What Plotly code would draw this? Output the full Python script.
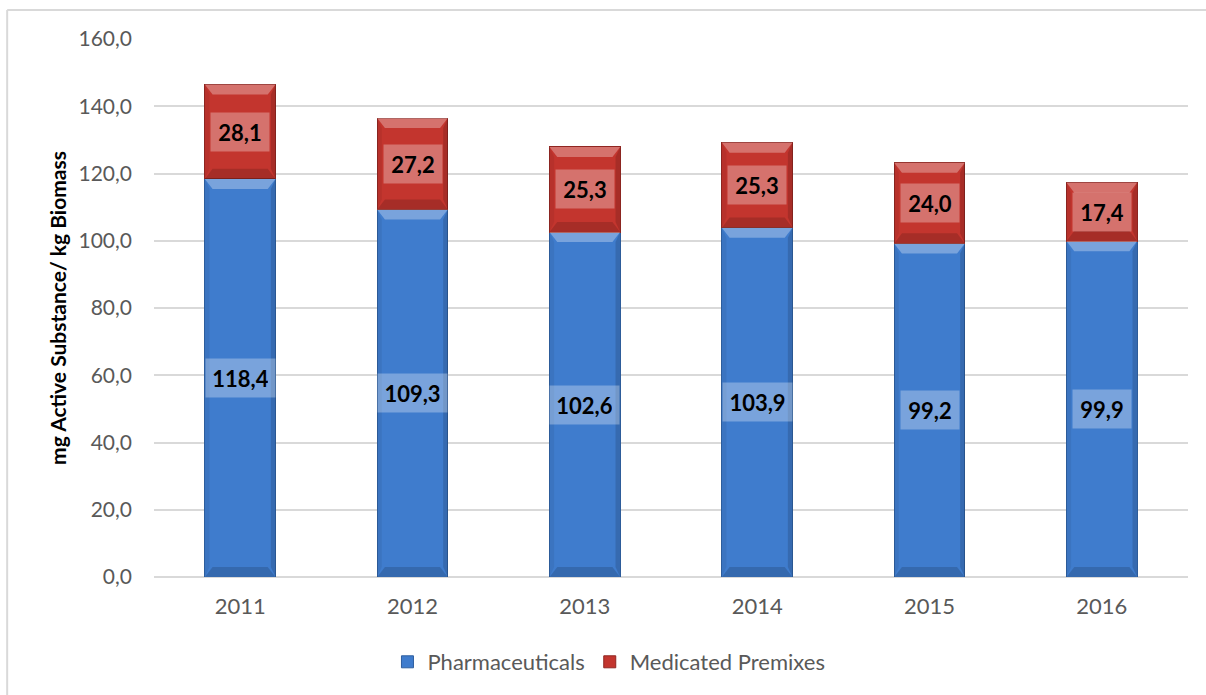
import plotly.graph_objects as go

# Antimicrobial use per kg biomass, split by product type
years = ["2011", "2012", "2013", "2014", "2015", "2016"]
pharmaceuticals = [118.4, 109.3, 102.6, 103.9, 99.2, 99.9]
medicated_premixes = [28.1, 27.2, 25.3, 25.3, 24.0, 17.4]

y_ticks = [0, 20, 40, 60, 80, 100, 120, 140, 160]

FONT = "Lato"
BLUE = "#3F7CCD"
BLUE_EDGE = "#2E5E9E"
RED = "#C3352E"
RED_EDGE = "#8F2621"
BAR_WIDTH = 0.41

fig = go.Figure()
fig.add_trace(go.Bar(
    name="Pharmaceuticals", x=years, y=pharmaceuticals,
    marker=dict(color=BLUE, line=dict(color=BLUE_EDGE, width=1)),
    width=BAR_WIDTH, hoverinfo="skip",
))
fig.add_trace(go.Bar(
    name="Medicated Premixes", x=years, y=medicated_premixes,
    marker=dict(color=RED, line=dict(color=RED_EDGE, width=1)),
    width=BAR_WIDTH, hoverinfo="skip",
))


def fmt(v):
    return f"{v:.1f}".replace(".", ",")


# bevel overlay on each stacked segment (category index on x, data units on y)
shapes = []
hw = BAR_WIDTH / 2
bx = 0.045   # bevel depth along x (category units)
by = 3.0     # bevel depth along y (data units)


def bevel(i, y0, y1):
    x0, x1 = i - hw, i + hw
    out = []
    # top facet, lit
    out.append(dict(type="path", xref="x", yref="y", layer="above", line=dict(width=0),
                    fillcolor="rgba(255,255,255,0.3)",
                    path=f"M {x0} {y1} L {x1} {y1} L {x1 - bx} {y1 - by} L {x0 + bx} {y1 - by} Z"))
    # bottom facet, shaded
    out.append(dict(type="path", xref="x", yref="y", layer="above", line=dict(width=0),
                    fillcolor="rgba(0,0,0,0.15)",
                    path=f"M {x0} {y0} L {x1} {y0} L {x1 - bx} {y0 + by} L {x0 + bx} {y0 + by} Z"))
    # left facet
    out.append(dict(type="path", xref="x", yref="y", layer="above", line=dict(width=0),
                    fillcolor="rgba(0,0,0,0.06)",
                    path=f"M {x0} {y0} L {x0 + bx*0.6} {y0 + by} L {x0 + bx*0.6} {y1 - by} L {x0} {y1} Z"))
    # right facet
    out.append(dict(type="path", xref="x", yref="y", layer="above", line=dict(width=0),
                    fillcolor="rgba(0,0,0,0.14)",
                    path=f"M {x1} {y0} L {x1 - bx*0.6} {y0 + by} L {x1 - bx*0.6} {y1 - by} L {x1} {y1} Z"))
    return out


annotations = []
for i, (p, m) in enumerate(zip(pharmaceuticals, medicated_premixes)):
    shapes += bevel(i, 0, p)
    shapes += bevel(i, p, p + m)
    for val, centre in ((p, p / 2), (m, p + m / 2)):
        txt = fmt(val)
        annotations.append(dict(
            x=i, y=centre, xref="x", yref="y", text=f"<b>{txt}</b>",
            showarrow=False, font=dict(family=FONT, size=22, color="#000000"),
            bgcolor="rgba(255,255,255,0.3)", borderpad=7,
            width=11 * len(txt), height=24,
        ))

# chart frame (left and top edges)
shapes.append(dict(type="line", xref="paper", yref="paper", x0=-0.142, x1=-0.142,
                   y0=-0.25, y1=1.054, line=dict(color="#D9D9D9", width=2)))
shapes.append(dict(type="line", xref="paper", yref="paper", x0=-0.142, x1=1.05,
                   y0=1.054, y1=1.054, line=dict(color="#D9D9D9", width=2)))

fig.update_layout(
    width=1206, height=695,
    margin=dict(l=154, r=18, t=39, b=118),
    barmode="stack", bargap=0.59,
    separators=",.",
    paper_bgcolor="white", plot_bgcolor="white",
    font=dict(family=FONT, color="#595959"),
    showlegend=True,
    legend=dict(orientation="h", x=0.44, xanchor="center", y=-0.158, yanchor="middle",
                font=dict(family=FONT, size=22, color="#595959"), traceorder="normal"),
    shapes=shapes, annotations=annotations,
)
fig.update_yaxes(
    range=[0, 160], tickvals=y_ticks, tickformat=".1f",
    showgrid=True, gridcolor="#D9D9D9", gridwidth=1.5,
    zeroline=True, zerolinecolor="#D9D9D9", zerolinewidth=2,
    tickfont=dict(family=FONT, size=21, color="#595959"),
    ticklabelstandoff=21,
    title=dict(text="<b>mg Active Substance/ kg Biomass</b>",
               font=dict(family=FONT, size=21, color="#000000"), standoff=6),
)
fig.update_xaxes(
    type="category", range=[-0.5, len(years) - 0.5],
    tickfont=dict(family=FONT, size=22, color="#595959"),
    ticklabelstandoff=14, showline=False,
)

fig.write_html("out.html")
